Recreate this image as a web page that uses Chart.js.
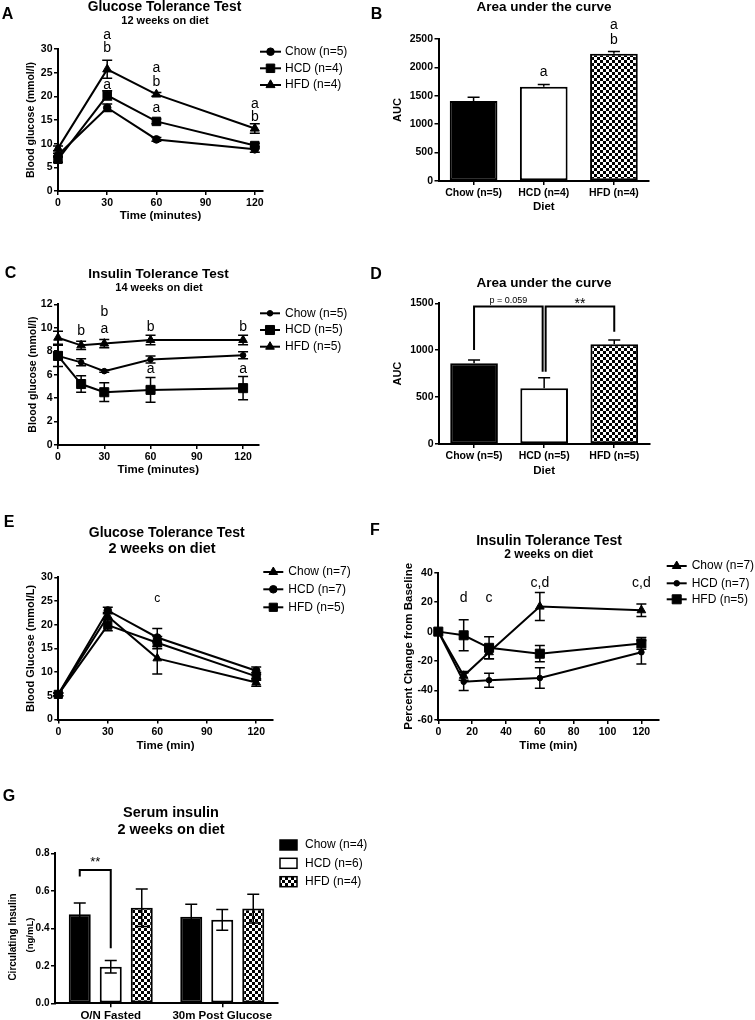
<!DOCTYPE html>
<html><head><meta charset="utf-8">
<script src="https://cdn.jsdelivr.net/npm/chart.js@4.4.1/dist/chart.umd.min.js"></script>
<style>
html,body{margin:0;padding:0;background:#fff;}
body{width:755px;height:1020px;position:relative;overflow:hidden;font-family:"Liberation Sans",Arial,sans-serif;}
canvas{position:absolute;}
.t{position:absolute;white-space:nowrap;transform:translate(-50%,-50%);color:#000;font-weight:bold;line-height:1;}
.r{transform:translate(-50%,-50%) rotate(-90deg);}
</style></head><body>
<script>
// ================= DATA =================
// Panel A: GTT, 12 weeks on diet
const gttTimesA = [0, 30, 60, 120];
const gttA_chow = [7.6, 17.6, 10.9, 8.8];
const gttA_chowErr = [0.4, 0.8, 0.4, 0.6];
const gttA_hcd = [6.7, 20.2, 14.7, 9.6];
const gttA_hcdErr = [0.6, 1.0, 0.5, 0.5];
const gttA_hfd = [9.0, 25.7, 20.4, 13.2];
const gttA_hfdErr = [0.5, 1.9, 0.4, 1.0];
const gttA_letters = [[30,33.0,'a'],[30,30.1,'b'],[30,22.3,'a'],[60,25.9,'a'],[60,23.0,'b'],[60,17.6,'a'],[120,18.4,'a'],[120,15.6,'b']];
const gttA_legend = ['Chow (n=5)','HCD (n=4)','HFD (n=4)'];
const xTicksA = [0,30,60,90,120];
const yTicksA = [0,5,10,15,20,25,30];

// Panel B: AUC of A
const dietB = ['Chow (n=5)','HCD (n=4)','HFD (n=4)'];
const aucB = [1410, 1660, 2240];
const aucBErr = [65, 40, 40];
const aucB_letters = [[1,1920,'a'],[2,2748,'a'],[2,2482,'b']];
const yTicksB = [0,500,1000,1500,2000,2500];

// Panel C: ITT, 14 weeks on diet
const ittTimesC = [0, 15, 30, 60, 120];
const ittC_chow = [7.6, 7.05, 6.3, 7.3, 7.65];
const ittC_chowErr = [0.3, 0.3, 0.1, 0.3, 0.3];
const ittC_hcd = [7.6, 5.2, 4.5, 4.7, 4.85];
const ittC_hcdErr = [0.9, 0.7, 0.8, 1.05, 1.0];
const ittC_hfd = [9.15, 8.5, 8.65, 8.95, 8.95];
const ittC_hfdErr = [0.55, 0.35, 0.35, 0.4, 0.4];
const ittC_letters = [[15,9.75,'b'],[30,11.3,'b'],[30,9.9,'a'],[60,10.05,'b'],[60,6.45,'a'],[120,10.05,'b'],[120,6.45,'a']];
const ittC_legend = ['Chow (n=5)','HCD (n=5)','HFD (n=5)'];
const xTicksC = [0,30,60,90,120];
const yTicksC = [0,2,4,6,8,10,12];

// Panel D: AUC of C
const dietD = ['Chow (n=5)','HCD (n=5)','HFD (n=5)'];
const aucD = [860, 594, 1063];
const aucDErr = [35, 113, 45];
const yTicksD = [0,500,1000,1500];
// [leftIdx, rightIdx, leftLegBottom, top, rightLegBottom, label, labelValue]
const aucD_brackets = [[0,1,1002,1465,771,'p = 0.059',1532],[1,2,771,1465,1198,'**',1490]];

// Panel E: GTT, 2 weeks on diet
const gttTimesE = [0, 30, 60, 120];
const gttE_chow = [5.3, 21.8, 12.9, 7.8];
const gttE_chowErr = [0.3, 0.8, 3.3, 0.8];
const gttE_hcd = [5.3, 23.0, 17.3, 10.3];
const gttE_hcdErr = [0.3, 0.7, 1.9, 0.8];
const gttE_hfd = [5.3, 19.9, 16.2, 9.1];
const gttE_hfdErr = [0.3, 1.2, 1.3, 0.8];
const gttE_letters = [[60,25.5,'c']];
const gttE_legend = ['Chow (n=7)','HCD (n=7)','HFD (n=5)'];
const xTicksE = [0,30,60,90,120];
const yTicksE = [0,5,10,15,20,25,30];

// Panel F: ITT, 2 weeks on diet (percent change from baseline)
const ittTimesF = [0, 15, 30, 60, 120];
const ittF_chow = [0, -30, -14, 17, 14.5];
const ittF_chowErr = [0, 3, 4.5, 9.5, 4.3];
const ittF_hcd = [0, -34, -33, -31.5, -14];
const ittF_hcdErr = [0, 6, 4.7, 7, 8];
const ittF_hfd = [0, -2.5, -11, -15, -8];
const ittF_hfdErr = [0, 10.5, 7.5, 5.5, 4];
const ittF_letters = [[15,22.6,'d'],[30,22.6,'c'],[60,32.8,'c,d'],[120,32.8,'c,d']];
const ittF_legend = ['Chow (n=7)','HCD (n=7)','HFD (n=5)'];
const xTicksF = [0,20,40,60,80,100,120];
const yTicksF = [-60,-40,-20,0,20,40];

// Panel G: serum insulin
const groupsG = ['O/N Fasted','30m Post Glucose'];
const insG_chow = [0.475, 0.462];
const insG_chowErr = [0.06, 0.066];
const insG_hcd = [0.195, 0.445];
const insG_hcdErr = [0.033, 0.055];
const insG_hfd = [0.51, 0.505];
const insG_hfdErr = [0.1, 0.077];
const insG_legend = ['Chow (n=4)','HCD (n=6)','HFD (n=4)'];
const yTicksG = [0,0.2,0.4,0.6,0.8];
// [leftDs, leftIdx, rightDs, rightIdx, leftLegBottom, top, rightLegBottom, label, labelValue]
const insG_brackets = [[0,0,1,0,0.676,0.711,0.293,'**',0.752]];

// ================= HELPERS =================
const FONT = '"Liberation Sans", Arial, sans-serif';
Chart.defaults.font.family = FONT;
Chart.defaults.color = '#000';
const TICK = 10.5;

function label(text, x, y, size, weight, rot) {
  const d = document.createElement('div');
  d.className = 't' + (rot ? ' r' : ''); d.textContent = text;
  d.style.left = x + 'px'; d.style.top = y + 'px';
  d.style.fontSize = size + 'px'; d.style.fontWeight = weight || 'bold';
  document.body.appendChild(d);
}

function makeChecker(ctx) {
  const t = document.createElement('canvas'); t.width = 6; t.height = 6;
  const g = t.getContext('2d');
  g.fillStyle = '#fff'; g.fillRect(0,0,6,6);
  g.fillStyle = '#000'; g.fillRect(0,0,3,3); g.fillRect(3,3,3,3);
  return ctx.createPattern(t, 'repeat');
}

function marker(ctx, style, r, x, y) {
  ctx.save();
  ctx.fillStyle = '#000'; ctx.strokeStyle = '#000'; ctx.lineWidth = 1;
  ctx.beginPath();
  if (style === 'circle') ctx.arc(x, y, r, 0, Math.PI*2);
  else if (style === 'rect') { const s = r*Math.SQRT1_2; ctx.rect(x-s, y-s, 2*s, 2*s); }
  else if (style === 'triangle') { ctx.moveTo(x, y-r); ctx.lineTo(x+0.866*r, y+0.5*r); ctx.lineTo(x-0.866*r, y+0.5*r); ctx.closePath(); }
  ctx.fill(); ctx.stroke();
  ctx.restore();
}

function lineDs(lbl, xs, ys, style, r) {
  return { label: lbl, data: xs.map((x,i)=>({x:x, y:ys[i]})), borderColor:'#000', backgroundColor:'#000',
    borderWidth:2, pointStyle:style, pointRadius:r, pointHoverRadius:r, pointBackgroundColor:'#000',
    pointBorderColor:'#000', pointBorderWidth:1, tension:0, clip:false, fill:false };
}

function axis(o) {
  const a = {
    type: o.type || 'linear',
    afterFit: s => { if (o.isX) s.height = o.fit; else s.width = o.fit; },
    grid: { drawOnChartArea:false, drawTicks:true, tickLength:4, color:'#000', lineWidth:1.5, offset:false },
    border: { display:true, color:'#000', width:2 },
    ticks: { color:'#000', font:{size:o.tickSize||TICK, weight:'bold'}, padding:o.isX?2:1.5, maxRotation:0, autoSkip:false },
    title: o.title ? { display:true, text:o.title, color:'#000', font:{size:o.titleSize, weight:'bold', lineHeight:o.lh||1.2}, padding:0 } : {display:false}
  };
  if (a.type === 'linear') {
    a.min = o.min; a.max = o.max;
    const tv = o.ticks;
    a.afterBuildTicks = s => { s.ticks = tv.map(v=>({value:v})); };
    a.ticks.callback = o.fmt || (v => String(v));
  } else {
    a.offset = true;
  }
  return a;
}

function drawErrors(chart, spec) {
  const ctx = chart.ctx, ys = chart.scales.y;
  ctx.save(); ctx.strokeStyle = '#000'; ctx.lineWidth = spec.errW || 1.5;
  (spec.errors||[]).forEach(e => {
    const meta = chart.getDatasetMeta(e.ds);
    const data = chart.data.datasets[e.ds].data;
    meta.data.forEach((el, i) => {
      const err = e.values[i]; if (!err) return;
      const v = typeof data[i] === 'object' ? data[i].y : data[i];
      const x = el.x, yt = ys.getPixelForValue(v+err), yb = e.up ? ys.getPixelForValue(v) : ys.getPixelForValue(v-err);
      const c = spec.cap;
      ctx.beginPath(); ctx.moveTo(x, yt); ctx.lineTo(x, yb);
      ctx.moveTo(x-c, yt); ctx.lineTo(x+c, yt);
      if (!e.up) { ctx.moveTo(x-c, yb); ctx.lineTo(x+c, yb); }
      ctx.stroke();
    });
  });
  ctx.restore();
}

function extras(spec, ox, oy) {
  return {
    id: 'extras',
    beforeDatasetsDraw(chart) { if (spec.errorsBehind) drawErrors(chart, spec); },
    afterDatasetsDraw(chart) { if (!spec.errorsBehind) drawErrors(chart, spec); },
    afterDraw(chart) {
      const ctx = chart.ctx, xs = chart.scales.x, ys = chart.scales.y;
      ctx.save();
      ctx.fillStyle = '#000'; ctx.strokeStyle = '#000';
      ctx.textAlign = 'center'; ctx.textBaseline = 'middle';
      (spec.brackets||[]).forEach(b => {
        const xl = b.xl(chart), xr = b.xr(chart);
        const y0 = ys.getPixelForValue(b.y0), yt = ys.getPixelForValue(b.top), y1 = ys.getPixelForValue(b.y1);
        ctx.lineWidth = 2;
        ctx.beginPath(); ctx.moveTo(xl, y0); ctx.lineTo(xl, yt); ctx.lineTo(xr, yt); ctx.lineTo(xr, y1); ctx.stroke();
        ctx.font = `${b.size}px ${FONT}`;
        ctx.fillText(b.text, (xl+xr)/2, ys.getPixelForValue(b.labelY));
      });
      (spec.texts||[]).forEach(t => {
        ctx.font = `${t.size}px ${FONT}`;
        ctx.fillText(t.text, xs.getPixelForValue(t.x), ys.getPixelForValue(t.y));
      });
      const lg = spec.legend;
      if (lg) {
        ctx.textAlign = 'left';
        ctx.font = `${lg.size}px ${FONT}`;
        chart.data.datasets.forEach((ds, i) => {
          const y = lg.rows[i] - oy;
          if (lg.kind === 'box') {
            ctx.fillStyle = ds.backgroundColor;
            ctx.fillRect(lg.x0-ox, y-lg.h/2, lg.w, lg.h);
            ctx.lineWidth = 1.5; ctx.strokeStyle = '#000';
            ctx.strokeRect(lg.x0-ox, y-lg.h/2, lg.w, lg.h);
          } else {
            ctx.lineWidth = 2; ctx.strokeStyle = '#000';
            ctx.beginPath(); ctx.moveTo(lg.x0-ox, y); ctx.lineTo(lg.x1-ox, y); ctx.stroke();
            marker(ctx, ds.pointStyle, ds.pointRadius, (lg.x0+lg.x1)/2-ox, y);
          }
          ctx.fillStyle = '#000';
          ctx.fillText(ds.label, lg.tx-ox, y);
        });
      }
      ctx.restore();
    }
  };
}

function panel(p) {
  const [rx, ry, rw, rh] = p.rect;
  const c = document.createElement('canvas');
  c.width = rw; c.height = rh;
  c.style.left = rx + 'px'; c.style.top = ry + 'px';
  c.style.width = rw + 'px'; c.style.height = rh + 'px';
  document.body.appendChild(c);
  const ctx = c.getContext('2d');
  const [L, T, R, B] = p.area;
  const cfg = p.build(ctx);
  cfg.options = Object.assign({
    responsive:false, animation:false, devicePixelRatio:1, events:[],
    layout:{ autoPadding:false, padding:{ left:L-rx-p.yW, top:T-ry, right:rx+rw-R, bottom:ry+rh-B-p.xH } },
    plugins:{ legend:{display:false}, tooltip:{enabled:false}, title:{display:false} }
  }, cfg.options);
  cfg.plugins = [extras(cfg.spec, rx, ry)];
  return new Chart(ctx, cfg);
}

// ================= PANELS =================
// A
panel({ rect:[0,0,375,235], area:[58,49,263,191], yW:32.7, xH:31.9, build: ctx => ({
  type:'line',
  data:{ datasets:[
    lineDs(gttA_legend[0], gttTimesA, gttA_chow, 'circle', 3.8),
    lineDs(gttA_legend[1], gttTimesA, gttA_hcd, 'rect', 6),
    lineDs(gttA_legend[2], gttTimesA, gttA_hfd, 'triangle', 5.2) ]},
  options:{ scales:{
    x: axis({isX:true, fit:31.9, min:0, max:125, ticks:xTicksA, title:'Time (minutes)', titleSize:11.5}),
    y: axis({fit:32.7, min:0, max:30, ticks:yTicksA, title:'Blood glucose (mmol/l)', titleSize:10.5}) } },
  spec:{ errorsBehind:true, cap:5,
    errors:[{ds:0, values:gttA_chowErr},{ds:1, values:gttA_hcdErr},{ds:2, values:gttA_hfdErr}],
    texts: gttA_letters.map(l=>({x:l[0], y:l[1], text:l[2], size:14})),
    legend:{ rows:[51.7,68.3,85], x0:260, x1:281, tx:285, size:12 } }
})});

// B
panel({ rect:[378,0,377,235], area:[438.5,39,649,181], yW:47.6, xH:32.6, build: ctx => ({
  type:'bar',
  data:{ labels:dietB, datasets:[{ label:'AUC', data:aucB, backgroundColor:['#000','#fff',makeChecker(ctx)],
    borderColor:'#000', borderWidth:2, borderSkipped:false, barPercentage:0.68, categoryPercentage:1 }]},
  options:{ scales:{
    x: axis({isX:true, type:'category', fit:32.6, title:'Diet', titleSize:11.5}),
    y: axis({fit:47.6, min:0, max:2500, ticks:yTicksB, title:'AUC', titleSize:11}) } },
  spec:{ cap:6, errors:[{ds:0, values:aucBErr, up:true}],
    texts: aucB_letters.map(l=>({x:l[0], y:l[1], text:l[2], size:14})) }
})});

// C
panel({ rect:[0,240,375,245], area:[58,304.3,258.5,445], yW:31.2, xH:31.9, build: ctx => ({
  type:'line',
  data:{ datasets:[
    lineDs(ittC_legend[0], ittTimesC, ittC_chow, 'circle', 2.8),
    lineDs(ittC_legend[1], ittTimesC, ittC_hcd, 'rect', 6.4),
    lineDs(ittC_legend[2], ittTimesC, ittC_hfd, 'triangle', 5) ]},
  options:{ scales:{
    x: axis({isX:true, fit:31.9, min:0, max:130, ticks:xTicksC, title:'Time (minutes)', titleSize:11.5}),
    y: axis({fit:31.2, min:0, max:12, ticks:yTicksC, title:'Blood glucose (mmol/l)', titleSize:10.5}) } },
  spec:{ errorsBehind:true, cap:5,
    errors:[{ds:0, values:ittC_chowErr},{ds:1, values:ittC_hcdErr},{ds:2, values:ittC_hfdErr}],
    texts: ittC_letters.map(l=>({x:l[0], y:l[1], text:l[2], size:14})),
    legend:{ rows:[313.3,330,346.7], x0:260, x1:280, tx:285, size:12 } }
})});

// D
panel({ rect:[378,240,377,245], area:[439,303.3,649.3,444], yW:47.6, xH:33.6, build: ctx => ({
  type:'bar',
  data:{ labels:dietD, datasets:[{ label:'AUC', data:aucD, backgroundColor:['#000','#fff',makeChecker(ctx)],
    borderColor:'#000', borderWidth:2, borderSkipped:false, barPercentage:0.68, categoryPercentage:1 }]},
  options:{ scales:{
    x: axis({isX:true, type:'category', fit:33.6, title:'Diet', titleSize:11.5}),
    y: axis({fit:47.6, min:0, max:1500, ticks:yTicksD, title:'AUC', titleSize:11}) } },
  spec:{ cap:6, errors:[{ds:0, values:aucDErr, up:true}],
    brackets: aucD_brackets.map((b, k) => ({
      xl: ch => ch.getDatasetMeta(0).data[b[0]].x + (k ? 1.5 : 0),
      xr: ch => ch.getDatasetMeta(0).data[b[1]].x - (k ? 0 : 1.5),
      y0:b[2], top:b[3], y1:b[4], text:b[5], labelY:b[6], size: k ? 14 : 9 })) }
})});

// E
panel({ rect:[0,500,375,260], area:[58.3,577.3,272.7,719.5], yW:34.1, xH:33.4, build: ctx => ({
  type:'line',
  data:{ datasets:[
    lineDs(gttE_legend[0], gttTimesE, gttE_chow, 'triangle', 5),
    lineDs(gttE_legend[1], gttTimesE, gttE_hcd, 'circle', 3.8),
    lineDs(gttE_legend[2], gttTimesE, gttE_hfd, 'rect', 5.8) ]},
  options:{ scales:{
    x: axis({isX:true, fit:33.4, min:0, max:130, ticks:xTicksE, title:'Time (min)', titleSize:11.5}),
    y: axis({fit:34.1, min:0, max:30, ticks:yTicksE, title:'Blood Glucose (mmol/L)', titleSize:11}) } },
  spec:{ errorsBehind:true, cap:5,
    errors:[{ds:0, values:gttE_chowErr},{ds:1, values:gttE_hcdErr},{ds:2, values:gttE_hfdErr}],
    texts: gttE_letters.map(l=>({x:l[0], y:l[1], text:l[2], size:12})),
    legend:{ rows:[572,589.3,607.3], x0:263.3, x1:283.3, tx:288.3, size:12 } }
})});

// F
panel({ rect:[378,500,377,260], area:[438.3,572.7,658.3,720], yW:36.6, xH:32.9, build: ctx => ({
  type:'line',
  data:{ datasets:[
    lineDs(ittF_legend[0], ittTimesF, ittF_chow, 'triangle', 5),
    lineDs(ittF_legend[1], ittTimesF, ittF_hcd, 'circle', 2.8),
    lineDs(ittF_legend[2], ittTimesF, ittF_hfd, 'rect', 6.4) ]},
  options:{ scales:{
    x: axis({isX:true, fit:32.9, min:0, max:130, ticks:xTicksF, title:'Time (min)', titleSize:11.5}),
    y: axis({fit:36.6, min:-60, max:40, ticks:yTicksF, title:'Percent Change from Baseline', titleSize:11.5}) } },
  spec:{ errorsBehind:true, cap:5,
    errors:[{ds:0, values:ittF_chowErr},{ds:1, values:ittF_hcdErr},{ds:2, values:ittF_hfdErr}],
    texts: ittF_letters.map(l=>({x:l[0], y:l[1], text:l[2], size:14})),
    legend:{ rows:[566,583.3,599.3], x0:666.7, x1:686.7, tx:691.7, size:12 } }
})});

// G
panel({ rect:[0,760,420,260], area:[55,853.3,278,1003.3], yW:51.2, xH:16.7, build: ctx => ({
  type:'bar',
  data:{ labels:groupsG, datasets:[
    { label:insG_legend[0], data:insG_chow, backgroundColor:'#000', borderColor:'#000', borderWidth:2, borderSkipped:false, barPercentage:0.71, categoryPercentage:0.834 },
    { label:insG_legend[1], data:insG_hcd, backgroundColor:'#fff', borderColor:'#000', borderWidth:2, borderSkipped:false, barPercentage:0.71, categoryPercentage:0.834 },
    { label:insG_legend[2], data:insG_hfd, backgroundColor:makeChecker(ctx), borderColor:'#000', borderWidth:2, borderSkipped:false, barPercentage:0.71, categoryPercentage:0.834 } ]},
  options:{ scales:{
    x: axis({isX:true, type:'category', fit:16.7, tickSize:11.5}),
    y: axis({fit:51.2, min:0, max:0.8, ticks:yTicksG, tickSize:10, fmt: v => v.toFixed(1)}) } },
  spec:{ cap:6, errors:[{ds:0, values:insG_chowErr},{ds:1, values:insG_hcdErr},{ds:2, values:insG_hfdErr}],
    brackets: insG_brackets.map(b => ({
      xl: ch => ch.getDatasetMeta(b[0]).data[b[1]].x,
      xr: ch => ch.getDatasetMeta(b[2]).data[b[3]].x,
      y0:b[4], top:b[5], y1:b[6], text:b[7], labelY:b[8], size:13 })),
    legend:{ kind:'box', rows:[845,863.3,881.7], x0:280, w:17, h:10, tx:305, size:12 } }
})});

// ================= TITLES, AXIS TITLE (G) & PANEL LETTERS =================
label('Glucose Tolerance Test', 164.5, 6.7, 13.8);
label('12 weeks on diet', 165, 20.2, 11);
label('Area under the curve', 544, 6.7, 13.5);
label('Insulin Tolerance Test', 158.5, 273.5, 13.5);
label('14 weeks on diet', 159, 287.3, 11);
label('Area under the curve', 544, 283.3, 13.5);
label('Glucose Tolerance Test', 166.7, 531.7, 14);
label('2 weeks on diet', 162, 548.3, 14.5);
label('Insulin Tolerance Test', 549, 540, 14);
label('2 weeks on diet', 548.7, 554.3, 12);
label('Serum insulin', 171, 811.7, 14.5);
label('2 weeks on diet', 171, 829.3, 14.5);
label('Circulating Insulin', 12.5, 937, 10, 'bold', true);
label('(ng/mL)', 29.5, 935, 9.5, 'bold', true);

label('A', 7.5, 14.2, 16);
label('B', 376.5, 14.2, 16);
label('C', 10.5, 272.8, 16);
label('D', 376, 274, 16);
label('E', 9, 522, 16);
label('F', 375, 530, 16);
label('G', 9, 795.8, 16);
</script>
</body></html>
